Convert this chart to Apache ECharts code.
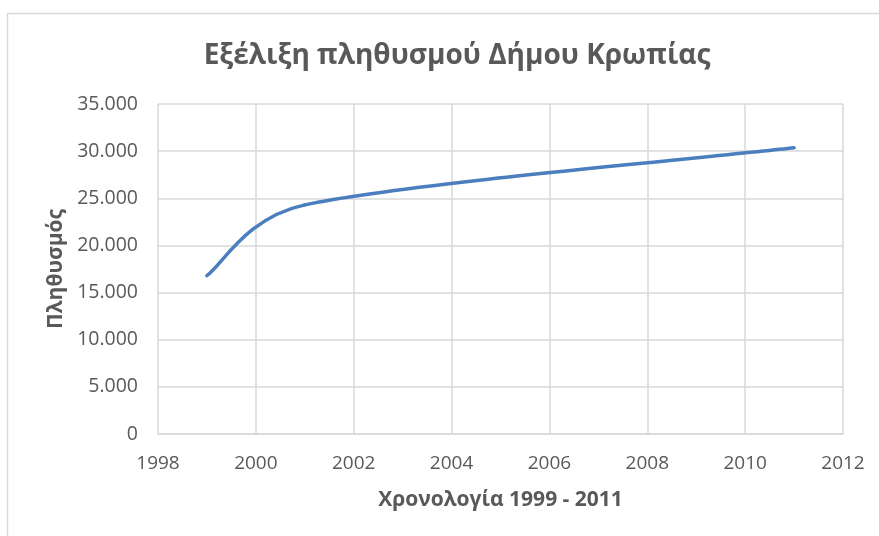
<!DOCTYPE html>
<html>
<head>
<meta charset="utf-8">
<script src="https://cdn.jsdelivr.net/npm/echarts@6/dist/echarts.min.js"></script>
<style>
  html, body { margin: 0; padding: 0; background: #ffffff; }
  #chart { width: 879px; height: 536px; }
</style>
</head>
<body>
<div id="chart"></div>
<script>
// Population of the Municipality of Kropia
const years = [1999, 2001, 2011];
const population = [16800, 24300, 30350];

const yearTicks = [1998, 2000, 2002, 2004, 2006, 2008, 2010, 2012];
const populationTicks = [0, 5000, 10000, 15000, 20000, 25000, 30000, 35000];

const titleText = 'Εξέλιξη πληθυσμού Δήμου Κρωπίας';
const xAxisTitle = 'Χρονολογία 1999 - 2011';
const yAxisTitle = 'Πληθυσμός';

const FONT = '"Open Sans", "Noto Sans", sans-serif';
const TEXT_GREY = '#595959';
const GRID_GREY = '#d9d9d9';
const LINE_BLUE = '#4a7ebf';

function thousands(v) {
  return String(v).replace(/\B(?=(\d{3})+(?!\d))/g, '.');
}

function dist(a, b) {
  return Math.hypot(b[0] - a[0], b[1] - a[1]);
}

// Spreadsheet-style smoothed segment between point i and i+1:
// control arms are 1/6 of the neighbour chord, capped at half the segment length.
function smoothSegment(pts, i) {
  const n = pts.length;
  const p0 = pts[Math.max(i - 1, 0)];
  const p1 = pts[i];
  const p2 = pts[i + 1];
  const p3 = pts[Math.min(i + 2, n - 1)];
  const f = 1 / 6;
  const d02 = dist(p0, p2);
  const d12 = dist(p1, p2);
  const d13 = dist(p1, p3);
  const f0 = (d02 > 0 && d02 * f > d12 / 2) ? d12 / d02 / 2 : f;
  const f1 = (d13 > 0 && d13 * f > d12 / 2) ? d12 / d13 / 2 : f;
  return {
    x1: p1[0], y1: p1[1],
    x2: p2[0], y2: p2[1],
    cpx1: p1[0] + (p2[0] - p0[0]) * f0,
    cpy1: p1[1] + (p2[1] - p0[1]) * f0,
    cpx2: p2[0] - (p3[0] - p1[0]) * f1,
    cpy2: p2[1] - (p3[1] - p1[1]) * f1
  };
}

const chart = echarts.init(document.getElementById('chart'), null, { renderer: 'canvas' });

const option = {
  backgroundColor: '#ffffff',
  animation: false,
  title: {
    text: titleText,
    left: 452,
    top: 37,
    textAlign: 'center',
    textStyle: {
      fontFamily: FONT,
      fontSize: 28,
      fontWeight: 'bold',
      color: TEXT_GREY
    }
  },
  graphic: [{
    type: 'rect',
    silent: true,
    shape: { x: 7.5, y: 13.5, width: 900, height: 600 },
    style: { fill: 'none', stroke: GRID_GREY, lineWidth: 1.5 }
  }],
  grid: {
    left: 158,
    right: 36,
    top: 104,
    bottom: 102,
    containLabel: false
  },
  xAxis: {
    type: 'value',
    min: yearTicks[0],
    max: yearTicks[yearTicks.length - 1],
    interval: yearTicks[1] - yearTicks[0],
    name: xAxisTitle,
    nameLocation: 'middle',
    nameGap: 56,
    nameTextStyle: {
      fontFamily: FONT,
      fontSize: 21,
      fontWeight: 'bold',
      color: TEXT_GREY
    },
    axisLine: { show: true, lineStyle: { color: GRID_GREY, width: 1.5 } },
    axisTick: { show: false },
    axisLabel: {
      margin: 20,
      fontFamily: FONT,
      fontSize: 19,
      color: TEXT_GREY,
      formatter: v => String(v)
    },
    splitLine: { show: true, lineStyle: { color: GRID_GREY, width: 1.5 } }
  },
  yAxis: {
    type: 'value',
    min: populationTicks[0],
    max: populationTicks[populationTicks.length - 1],
    interval: populationTicks[1] - populationTicks[0],
    name: yAxisTitle,
    nameLocation: 'middle',
    nameGap: 89,
    nameRotate: 90,
    nameTextStyle: {
      fontFamily: FONT,
      fontSize: 21,
      fontWeight: 'bold',
      color: TEXT_GREY
    },
    axisLine: { show: false },
    axisTick: { show: false },
    axisLabel: {
      margin: 20,
      fontFamily: FONT,
      fontSize: 19.5,
      color: TEXT_GREY,
      formatter: v => thousands(v)
    },
    splitLine: { show: true, lineStyle: { color: GRID_GREY, width: 1.5 } }
  },
  series: [{
    type: 'custom',
    coordinateSystem: 'cartesian2d',
    silent: true,
    clip: false,
    encode: { x: 0, y: 1 },
    data: years.map((y, i) => [y, population[i]]),
    renderItem: function (params, api) {
      const i = params.dataIndex;
      if (i >= years.length - 1) {
        return { type: 'group', children: [] };
      }
      const pts = years.map((y, k) => api.coord([y, population[k]]));
      return {
        type: 'bezierCurve',
        shape: smoothSegment(pts, i),
        style: {
          fill: 'none',
          stroke: LINE_BLUE,
          lineWidth: 3.5,
          lineCap: 'round'
        }
      };
    }
  }]
};

chart.setOption(option);
</script>
</body>
</html>
